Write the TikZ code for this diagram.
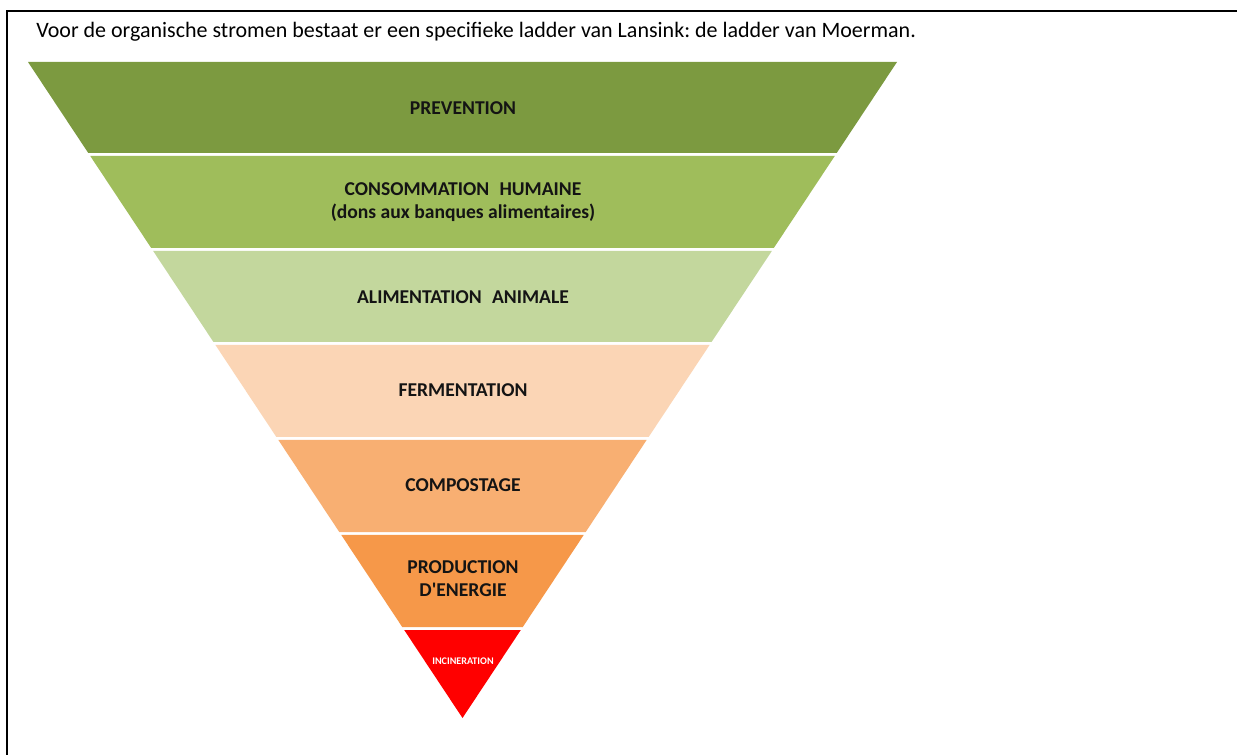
\documentclass[tikz,border=0pt]{standalone}
\usepackage{fontspec}
\setmainfont{Carlito}
\frenchspacing
\usetikzlibrary{calc}
\definecolor{bandA}{HTML}{7C9A40}
\definecolor{bandB}{HTML}{9FBD5B}
\definecolor{bandC}{HTML}{C3D79D}
\definecolor{bandD}{HTML}{FBD5B5}
\definecolor{bandE}{HTML}{F8AF72}
\definecolor{bandF}{HTML}{F69849}
\definecolor{bandG}{HTML}{FF0000}
\definecolor{labeltext}{HTML}{141414}
\tikzset{
  bandlabel/.style={font=\fontsize{14.7}{17.5}\selectfont\bfseries, text=labeltext, align=center, inner sep=0pt},
  smalllabel/.style={font=\fontsize{7.6}{9}\selectfont\bfseries, text=white, inner sep=0pt},
  headertext/.style={font=\fontsize{16.5}{19}\selectfont, text=black, inner sep=0pt, anchor=base west},
  framestyle/.style={draw=black, line width=1.6pt}
}
\begin{document}
\begin{tikzpicture}[x=0.75pt,y=-0.75pt]
\useasboundingbox (0,0) rectangle (1237,755);
\fill[white] (0,0) rectangle (1237,755);
% frame (cropped at right and bottom)
\draw[framestyle] (7,760) -- (7,11) -- (1240,11);
% header
\node[headertext] (header) at (36,38) {Voor de organische stromen bestaat er een specifieke ladder van Lansink: de ladder van Moerman.};
% triangle geometry
\coordinate (A) at (28,62);
\coordinate (B) at (897,62);
\coordinate (C) at (462.5,718);
\foreach \ta/\tb/\col in {0/0.1387/bandA, 0.1433/0.2835/bandB, 0.2881/0.4268/bandC, 0.4314/0.5716/bandD, 0.5762/0.7165/bandE, 0.7210/0.8613/bandF, 0.8659/1/bandG}{
  \fill[\col] ($(A)!\ta!(C)$) -- ($(B)!\ta!(C)$) -- ($(B)!\tb!(C)$) -- ($(A)!\tb!(C)$) -- cycle;
}
% labels
\node[bandlabel] (prev) at (463,108) {PREVENTION};
\node[bandlabel] (cons) at (463,202) {CONSOMMATION\hspace{0.3em} HUMAINE\\(dons aux banques alimentaires)};
\node[bandlabel] (alim) at (463,297) {ALIMENTATION\hspace{0.3em} ANIMALE};
\node[bandlabel] (ferm) at (463,390) {FERMENTATION};
\node[bandlabel] (comp) at (463,485) {COMPOSTAGE};
\node[bandlabel] (prod) at (463,578.5) {PRODUCTION\\D\textquotesingle ENERGIE};
\node[smalllabel] (inci) at (463,661) {INCINERATION};
\end{tikzpicture}
\end{document}
